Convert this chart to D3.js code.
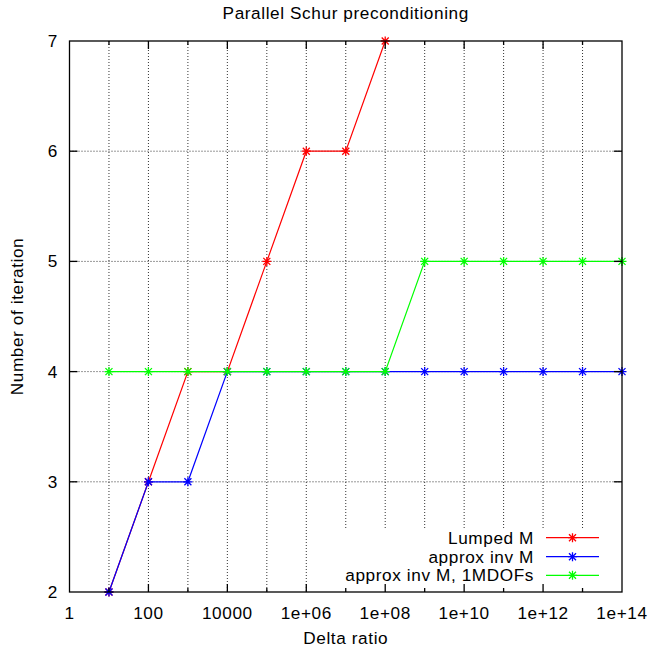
<!DOCTYPE html>
<html>
<head>
<meta charset="utf-8">
<script src="https://cdn.jsdelivr.net/npm/d3@7"></script>
<style>
  html, body { margin: 0; padding: 0; background: #fff; }
  svg text { font-family: "Liberation Sans", Arial, Helvetica, sans-serif; font-size: 17.2px; letter-spacing: 0.6px; fill: #000; }
</style>
</head>
<body>
<svg id="chart" width="650" height="650"></svg>
<script>
// Delta ratio samples (one per decade)
const deltaRatio = [1e1, 1e2, 1e3, 1e4, 1e5, 1e6, 1e7, 1e8, 1e9, 1e10, 1e11, 1e12, 1e13, 1e14];
// Iteration counts per preconditioner
const lumpedM      = [2, 3, 4, 4, 5, 6, 6, 7];
const approxInvM   = [2, 3, 3, 4, 4, 4, 4, 4, 4, 4, 4, 4, 4, 4];
const approxInvM1M = [4, 4, 4, 4, 4, 4, 4, 4, 5, 5, 5, 5, 5, 5];
const seriesNames  = ["Lumped M", "approx inv M", "approx inv M, 1MDOFs"];
const seriesColors = ["#ff0000", "#0000ff", "#00ff00"];
// Tick values
const xMajorTicks = [1, 1e2, 1e4, 1e6, 1e8, 1e10, 1e12, 1e14];
const xMajorLabels = ["1", "100", "10000", "1e+06", "1e+08", "1e+10", "1e+12", "1e+14"];
const xMinorTicks = [1e1, 1e3, 1e5, 1e7, 1e9, 1e11, 1e13];
const yTicks = [2, 3, 4, 5, 6, 7];

const svg = d3.select("#chart");
const L = 69.5, R = 622, T = 41, B = 592;

const x = d3.scaleLog().domain([1, 1e14]).range([L, R]);
const y = d3.scaleLinear().domain([2, 7]).range([B, T]);

// Grid (dotted), at every decade and every integer level
const grid = svg.append("g").attr("stroke", "#333").attr("stroke-width", 1).attr("stroke-dasharray", "1,2");
deltaRatio.slice(0, -1).forEach(v => {
  grid.append("line").attr("x1", x(v)).attr("x2", x(v)).attr("y1", T).attr("y2", B);
});
yTicks.slice(1, -1).forEach(v => {
  grid.append("line").attr("x1", L).attr("x2", R).attr("y1", y(v)).attr("y2", y(v));
});

// Key block: blank area above the grid in the lower right corner
const key = svg.append("g");
const keyRowY = [537.7, 556.7, 575.3];
const keyTextX = 534, keySampleX1 = 546, keySampleX2 = 599;
const keyBg = key.append("rect").attr("fill", "#fff");
const keyTexts = seriesNames.map((n, i) =>
  key.append("text").attr("x", keyTextX).attr("y", keyRowY[i]).attr("dy", "0.35em")
    .attr("text-anchor", "end").text(n));
const textLeft = d3.min(keyTexts, t => keyTextX - t.node().getComputedTextLength());
keyBg.attr("x", textLeft - 6).attr("y", 528).attr("width", R - (textLeft - 6)).attr("height", B - 528);

// Asterisk marker (gnuplot point type 3)
function star(g, cx, cy, color) {
  const r = 4.5, d = r * 0.78;
  const p = `M${cx - r},${cy}L${cx + r},${cy}M${cx},${cy - r}L${cx},${cy + r}` +
            `M${cx - d},${cy - d}L${cx + d},${cy + d}M${cx - d},${cy + d}L${cx + d},${cy - d}`;
  g.append("path").attr("d", p).attr("stroke", color).attr("stroke-width", 1.3).attr("fill", "none");
}

// Series lines and markers
const allSeries = [lumpedM, approxInvM, approxInvM1M];
const line = d3.line().x(d => x(d[0])).y(d => y(d[1]));
const plot = svg.append("g");
allSeries.forEach((vals, i) => {
  const pts = vals.map((v, j) => [deltaRatio[j], v]);
  plot.append("path").attr("d", line(pts)).attr("fill", "none")
    .attr("stroke", seriesColors[i]).attr("stroke-width", 1.2);
  pts.forEach(p => star(plot, x(p[0]), y(p[1]), seriesColors[i]));
});

// Key samples
seriesNames.forEach((n, i) => {
  key.append("line").attr("x1", keySampleX1).attr("x2", keySampleX2)
    .attr("y1", keyRowY[i]).attr("y2", keyRowY[i])
    .attr("stroke", seriesColors[i]).attr("stroke-width", 1.2);
  star(key, (keySampleX1 + keySampleX2) / 2, keyRowY[i], seriesColors[i]);
});
key.raise();

// Border and tick marks on all four sides
const axes = svg.append("g").attr("stroke", "#000").attr("stroke-width", 1.3);
axes.append("rect").attr("x", L).attr("y", T).attr("width", R - L).attr("height", B - T).attr("fill", "none");
xMajorTicks.slice(1, -1).forEach(v => {
  axes.append("line").attr("x1", x(v)).attr("x2", x(v)).attr("y1", B).attr("y2", B - 8);
  axes.append("line").attr("x1", x(v)).attr("x2", x(v)).attr("y1", T).attr("y2", T + 8);
});
xMinorTicks.forEach(v => {
  axes.append("line").attr("x1", x(v)).attr("x2", x(v)).attr("y1", B).attr("y2", B - 4);
  axes.append("line").attr("x1", x(v)).attr("x2", x(v)).attr("y1", T).attr("y2", T + 4);
});
yTicks.slice(1, -1).forEach(v => {
  axes.append("line").attr("x1", L).attr("x2", L + 8).attr("y1", y(v)).attr("y2", y(v));
  axes.append("line").attr("x1", R).attr("x2", R - 8).attr("y1", y(v)).attr("y2", y(v));
});

// Tick labels
xMajorTicks.forEach((v, i) => {
  svg.append("text").attr("x", x(v)).attr("y", 618.5).attr("text-anchor", "middle").text(xMajorLabels[i]);
});
yTicks.forEach(v => {
  svg.append("text").attr("x", 58).attr("y", y(v)).attr("dy", "0.35em").attr("text-anchor", "end").text(d3.format("d")(v));
});

// Titles
svg.append("text").attr("x", (L + R) / 2).attr("y", 19).attr("text-anchor", "middle").text("Parallel Schur preconditioning");
svg.append("text").attr("x", (L + R) / 2).attr("y", 644).attr("text-anchor", "middle").text("Delta ratio");
svg.append("text").attr("transform", "translate(22.5,316.5) rotate(-90)").attr("text-anchor", "middle").text("Number of iteration");
</script>
</body>
</html>
